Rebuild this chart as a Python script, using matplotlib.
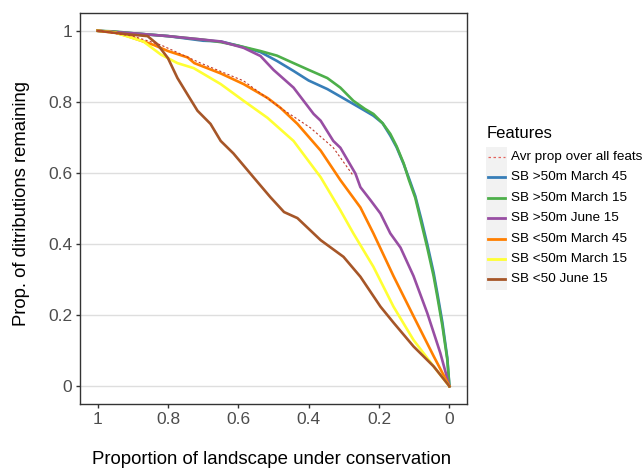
import numpy as np
import matplotlib
matplotlib.use('Agg')
from matplotlib import pyplot as plt
from matplotlib.patches import Rectangle

plt.rcParams['font.family'] = ['Liberation Sans', 'DejaVu Sans']

''' Curve data read off the figure '''
# x = proportion of landscape under conservation, y = prop. of distributions remaining
avg_x = [1, 0.9, 0.82, 0.707, 0.585, 0.48, 0.395, 0.33, 0.276]
avg_y = [1, 0.985, 0.96, 0.909, 0.859, 0.783, 0.727, 0.671, 0.596]

blue_x = [1, 0.9, 0.8, 0.7, 0.65, 0.6, 0.537, 0.49, 0.443, 0.40, 0.347, 0.31, 0.273, 0.24,
          0.216, 0.19, 0.168, 0.15, 0.13, 0.115, 0.097, 0.08, 0.063, 0.045, 0.034, 0.02, 0.006, 0]
blue_y = [1, 0.993, 0.985, 0.972, 0.97, 0.958, 0.94, 0.915, 0.887, 0.86, 0.836, 0.815, 0.794, 0.775,
          0.761, 0.74, 0.705, 0.672, 0.625, 0.585, 0.535, 0.47, 0.40, 0.32, 0.26, 0.18, 0.08, 0]

green_x = [1, 0.95, 0.9, 0.8, 0.7, 0.65, 0.6, 0.537, 0.49, 0.443, 0.40, 0.347, 0.31, 0.273, 0.24,
           0.216, 0.19, 0.168, 0.15, 0.13, 0.115, 0.097, 0.08, 0.063, 0.045, 0.034, 0.02, 0.006, 0]
green_y = [1, 0.998, 0.993, 0.985, 0.975, 0.968, 0.958, 0.943, 0.93, 0.909, 0.89, 0.867, 0.84, 0.803,
           0.78, 0.766, 0.74, 0.71, 0.675, 0.627, 0.58, 0.53, 0.46, 0.39, 0.31, 0.25, 0.17, 0.075, 0]

purple_x = [1, 0.9, 0.8, 0.7, 0.65, 0.585, 0.537, 0.5, 0.443, 0.386, 0.366, 0.33, 0.31, 0.267,
            0.253, 0.224, 0.196, 0.168, 0.139, 0.102, 0.063, 0.026, 0]
purple_y = [1, 0.993, 0.985, 0.975, 0.97, 0.952, 0.929, 0.89, 0.84, 0.766, 0.747, 0.69, 0.671, 0.598,
            0.56, 0.523, 0.486, 0.43, 0.39, 0.31, 0.206, 0.094, 0]

orange_x = [1, 0.95, 0.915, 0.84, 0.8, 0.744, 0.725, 0.65, 0.585, 0.517, 0.48, 0.432, 0.366, 0.31,
            0.253, 0.216, 0.159, 0.102, 0.045, 0]
orange_y = [1, 0.995, 0.985, 0.96, 0.943, 0.925, 0.909, 0.88, 0.85, 0.811, 0.783, 0.738, 0.663, 0.58,
            0.503, 0.43, 0.31, 0.197, 0.085, 0]

yellow_x = [1, 0.95, 0.87, 0.82, 0.773, 0.727, 0.65, 0.585, 0.517, 0.443, 0.366, 0.31, 0.273,
            0.216, 0.159, 0.102, 0.045, 0]
yellow_y = [1, 0.995, 0.97, 0.933, 0.909, 0.895, 0.85, 0.803, 0.755, 0.69, 0.588, 0.495, 0.43,
            0.336, 0.224, 0.13, 0.056, 0]

brown_x = [1, 0.915, 0.858, 0.83, 0.8, 0.773, 0.744, 0.716, 0.679, 0.65, 0.614, 0.557, 0.509, 0.47,
           0.432, 0.366, 0.301, 0.253, 0.196, 0.159, 0.102, 0.045, 0]
brown_y = [1, 0.99, 0.985, 0.962, 0.923, 0.867, 0.82, 0.775, 0.738, 0.69, 0.655, 0.588, 0.532, 0.49,
           0.473, 0.411, 0.364, 0.308, 0.224, 0.179, 0.112, 0.056, 0]

labels = ['Avr prop over all feats', 'SB >50m March 45', 'SB >50m March 15', 'SB >50m June 15',
          'SB <50m March 45', 'SB <50m March 15', 'SB <50 June 15']
colors = ['#E4635E', '#377EB8', '#4DAF4A', '#984EA3', '#FF7F00', '#FFFF33', '#A65628']
xticks = [1, 0.8, 0.6, 0.4, 0.2, 0]
yticks = [0, 0.2, 0.4, 0.6, 0.8, 1]

''' Plot '''
fig = plt.figure(figsize=(6.44, 4.71), dpi=100)
ax = fig.add_axes([80/644, 67/471, 387/644, 391/471])

series = [(blue_x, blue_y), (green_x, green_y), (purple_x, purple_y),
          (orange_x, orange_y), (yellow_x, yellow_y), (brown_x, brown_y)]
for (sx, sy), c in zip(series, colors[1:]):
    ax.plot(sx, sy, color=c, lw=1.9, solid_joinstyle='round')
ax.plot(avg_x, avg_y, color='#C0392B', lw=0.8, ls=(0, (2, 2)))

ax.set_xlim(1.05, -0.05)
ax.set_ylim(-0.05, 1.05)
ax.set_xticks(xticks)
ax.set_xticklabels(['%g' % t for t in xticks])
ax.set_yticks(yticks)
ax.set_yticklabels(['%g' % t for t in yticks])
ax.yaxis.grid(True, color='#DEDEDE', lw=1.0)
ax.set_axisbelow(True)
for s in ax.spines.values():
    s.set_color('#333333')
    s.set_linewidth(1.0)
ax.tick_params(colors='#333333', length=2.75, width=1.0, labelsize=12.5, labelcolor='#4D4D4D', pad=3)

# axis titles placed by pixel centre
fig.text(272/644, 1 - 460/471, 'Proportion of landscape under conservation',
         fontsize=13.4, ha='center', va='center')
fig.text(22/644, 1 - 203/471, 'Prop. of ditributions remaining',
         fontsize=13.3, ha='center', va='center', rotation=90)

''' Legend '''
lax = fig.add_axes([0, 0, 1, 1], facecolor='none')
lax.set_xlim(0, 644)
lax.set_ylim(471, 0)
lax.axis('off')
lax.text(487, 134, 'Features', fontsize=12, va='center', ha='left')
row_h = 20.4
for i, (lab, c) in enumerate(zip(labels, colors)):
    yc = 157 + i * row_h
    lax.add_patch(Rectangle((486, yc - row_h / 2), 21, row_h, color='#F2F2F2', lw=0))
    if i == 0:
        lax.plot([488, 505], [yc, yc], color=c, lw=0.9, ls=(0, (2, 2)))
    else:
        lax.plot([488, 505], [yc, yc], color=c, lw=2.0)
    lax.text(511, yc, lab, fontsize=9.7, va='center', ha='left')

fig.savefig('out.png', dpi=100)
